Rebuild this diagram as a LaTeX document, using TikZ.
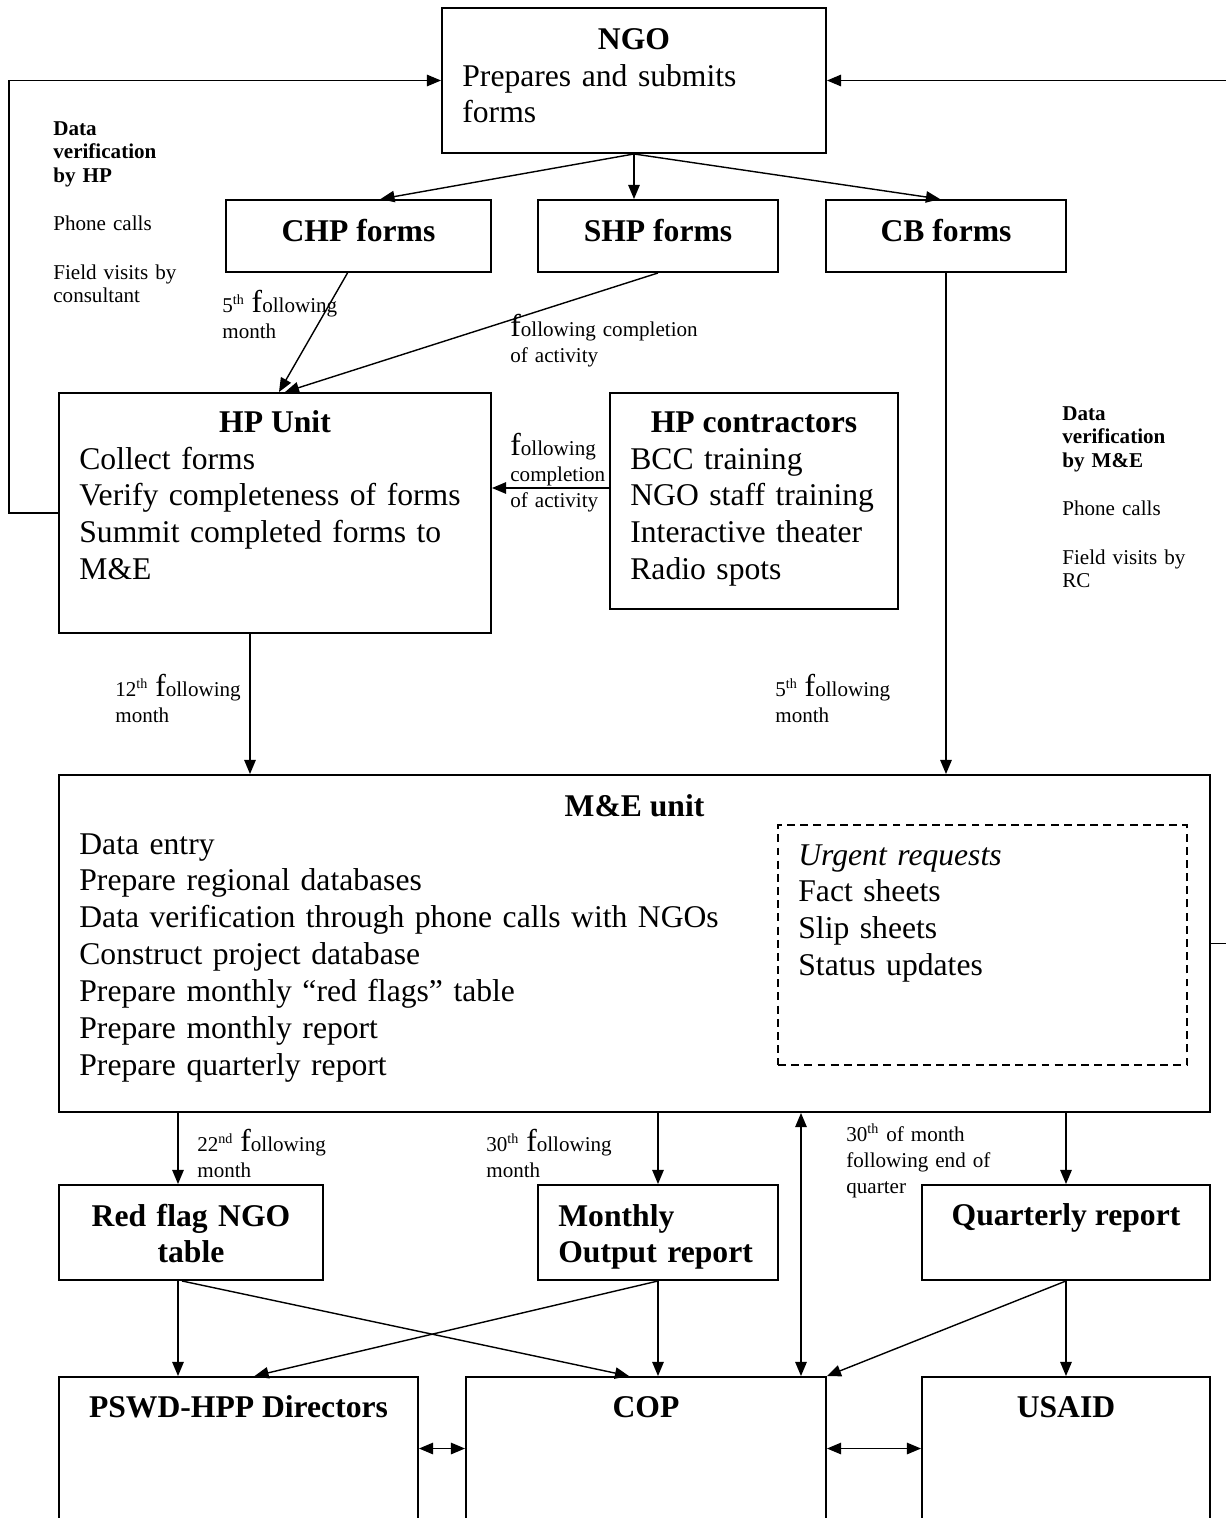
\documentclass[tikz,border=0pt]{standalone}
\usepackage{fontspec}
\setmainfont{Liberation Serif}
\usepackage{tikz}
\usetikzlibrary{arrows.meta,positioning,calc,fit}

\newcommand{\flw}{{\fontsize{18}{13}\selectfont f}ollowing}

\begin{document}
\begin{tikzpicture}[x=0.02cm, y=-0.02cm,
  box/.style={draw, line width=1.1pt, inner sep=0pt},
  dbox/.style={draw, line width=1.1pt, inner sep=0pt, dash pattern=on 4.5pt off 3pt},
  title/.style={anchor=base, inner sep=0pt, font=\fontsize{18}{21}\selectfont\bfseries},
  items/.style={anchor=base west, inner sep=0pt, align=left, text width=8cm, font=\fontsize{18}{21}\selectfont},
  note/.style={anchor=base west, inner sep=0pt, align=left, text width=3.5cm, font=\fontsize{12}{13.5}\selectfont},
  tag/.style={anchor=base west, inner sep=0pt, align=left, text width=4.5cm, font=\fontsize{12}{15}\selectfont},
  arr/.style={line width=0.8pt, -{Triangle[length=8pt,width=6.5pt]}},
  arrs/.style={line width=0.8pt, {Triangle[length=8pt,width=6.5pt]}-{Triangle[length=8pt,width=6.5pt]}}]

  \useasboundingbox (0,0) rectangle (1225,1518);

  % top: NGO and the forms
  \node[box, fit={(442,8) (826,153)}] (ngo) {};
  \node[title] (ngotitle) at ($(ngo.north)+(0,42)$) {NGO};
  \node[items] (ngolist) at ($(ngo.north west)+(21,79)$) {Prepares and submits\\forms};

  \node[box, fit={(226,200) (491,272)}] (chp) {};
  \node[title] (chptitle) at ($(chp.north)+(0,42)$) {CHP forms};
  \node[box, fit={(538,200) (778,272)}] (shp) {};
  \node[title] (shptitle) at ($(shp.north)+(0,42)$) {SHP forms};
  \node[box, fit={(826,200) (1066,272)}] (cb) {};
  \node[title] (cbtitle) at ($(cb.north)+(0,42)$) {CB forms};

  % HP unit and contractors
  \node[box, fit={(59,393) (491,633)}] (hp) {};
  \node[title] (hptitle) at ($(hp.north)+(0,40)$) {HP Unit};
  \node[items] (hplist) at ($(hp.north west)+(21,77)$) {Collect forms\\Verify completeness of forms\\Summit completed forms to\\M\&E};

  \node[box, fit={(610,393) (898,609)}] (hpc) {};
  \node[title] (hpctitle) at ($(hpc.north)+(0,40)$) {HP contractors};
  \node[items] (hpclist) at ($(hpc.north west)+(21,77)$) {BCC training\\NGO staff training\\Interactive theater\\Radio spots};

  % M&E unit
  \node[box, fit={(59,775) (1210,1112)}] (me) {};
  \node[title] (metitle) at ($(me.north)+(0,42)$) {M\&E unit};
  \node[items, text width=14cm] (melist) at ($(me.north west)+(21,80)$) {Data entry\\Prepare regional databases\\Data verification through phone calls with NGOs\\Construct project database\\Prepare monthly ``red flags'' table\\Prepare monthly report\\Prepare quarterly report};

  \node[dbox, fit={(778,825) (1187,1065)}] (urgent) {};
  \node[items] (urgentlist) at ($(urgent.north west)+(21,41)$) {\textit{Urgent requests}\\Fact sheets\\Slip sheets\\Status updates};

  % reports
  \node[box, fit={(59,1185) (323,1280)}] (rf) {};
  \node[title, text width=5cm, align=center] (rftitle) at ($(rf.north)+(0,42)$) {Red flag NGO\\table};
  \node[box, fit={(538,1185) (778,1280)}] (mor) {};
  \node[items, font=\fontsize{18}{21}\selectfont\bfseries] (mortitle) at ($(mor.north west)+(21,42)$) {Monthly\\Output report};
  \node[box, fit={(922,1185) (1210,1280)}] (qr) {};
  \node[title] (qrtitle) at ($(qr.north)+(0,41)$) {Quarterly report};

  % receivers
  \node[box, fit={(59,1377) (418,1520)}] (pswd) {};
  \node[title] (pswdtitle) at ($(pswd.north)+(0,41)$) {PSWD-HPP Directors};
  \node[box, fit={(466,1377) (826,1520)}] (cop) {};
  \node[title] (coptitle) at ($(cop.north)+(0,41)$) {COP};
  \node[box, fit={(922,1377) (1210,1520)}] (usaid) {};
  \node[title] (usaidtitle) at ($(usaid.north)+(0,41)$) {USAID};

  % side notes
  \node[note] (hpcheck) at (53,135) {\textbf{Data}\\\textbf{verification}\\\textbf{by HP}\\[14pt]Phone calls\\[14pt]Field visits by\\consultant};
  \node[note] (mecheck) at (1062,420) {\textbf{Data}\\\textbf{verification}\\\textbf{by M\&E}\\[14pt]Phone calls\\[14pt]Field visits by\\RC};

  \node[tag] (tchp) at (222,312) {5\textsuperscript{th} \flw\\month};
  \node[tag] (tshp) at (510,336) {\flw{} completion\\of activity};
  \node[tag] (thpc) at (510,455) {\flw\\completion\\of activity};
  \node[tag] (thp) at (115,696) {12\textsuperscript{th} \flw\\month};
  \node[tag] (tcb) at (775,696) {5\textsuperscript{th} \flw\\month};
  \node[tag] (trf) at (197,1151) {22\textsuperscript{nd} \flw\\month};
  \node[tag] (tmor) at (486,1151) {30\textsuperscript{th} \flw\\month};
  \node[tag] (tqr) at (846,1141) {30\textsuperscript{th} of month\\following end of\\quarter};

  % connectors
  \draw[arr] (ngo.south) -- ($(chp.north)+(22,0)$);
  \draw[arr] (ngo.south) -- (ngo.south |- shp.north);
  \draw[arr] (ngo.south) -- ($(cb.north)+(-6,0)$);
  \draw[arr] ($(chp.south)+(-11,0)$) -- ($(hp.north)+(4,0)$);
  \draw[arr] (shp.south) -- ($(hp.north)+(10,0)$);
  \draw[arr] ($(hpc.west)+(0,-13)$) -- ($(hp.east)+(0,-25)$);
  \draw[arr] (hp.west) -- ++(-49,0) |- (ngo.west);
  \draw[arr] (me.east) -- ++(20,0) |- (ngo.east);
  \draw[arr] ($(hp.south)+(-25,0)$) coordinate (hpa) -- (hpa |- me.north);
  \draw[arr] (cb.south) -- (cb.south |- me.north);

  \draw[arr] ($(me.south -| rf.north)+(-13,0)$) coordinate (mea) -- (mea |- rf.north);
  \draw[arr] (me.south -| mor.north) -- (mor.north);
  \draw[arr] (me.south -| qr.north) -- (qr.north);
  \draw[arrs] ($(cop.north)+(155,0)$) coordinate (copa) -- (copa |- me.south);

  \draw[arr] ($(rf.south)+(-13,0)$) coordinate (rfa) -- (rfa |- pswd.north);
  \draw[arr] ($(rf.south)+(-9,0)$) -- ($(cop.north)+(-17,0)$);
  \draw[arr] (mor.south) -- ($(pswd.north)+(16,0)$);
  \draw[arr] (mor.south) -- (mor.south |- cop.north);
  \draw[arr] (qr.south) -- (cop.north east);
  \draw[arr] (qr.south) -- (usaid.north);
  \draw[arrs] (pswd.east) -- (cop.west);
  \draw[arrs] (cop.east) -- (usaid.west);
\end{tikzpicture}
\end{document}
